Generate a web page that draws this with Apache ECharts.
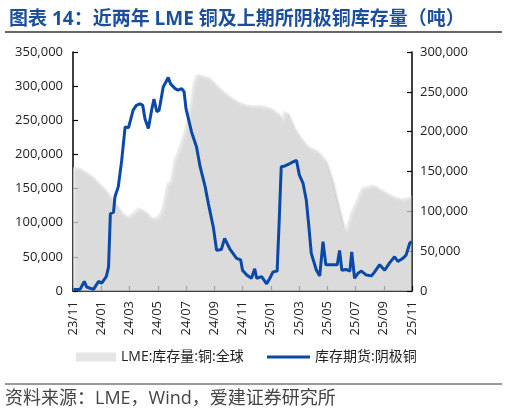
<!DOCTYPE html>
<html>
<head>
<meta charset="utf-8">
<script src="https://cdn.jsdelivr.net/npm/echarts@6/dist/echarts.min.js"></script>
<style>
html,body{margin:0;padding:0;background:#fff;}
#c{width:508px;height:415px;}
</style>
</head>
<body>
<div id="c"></div>
<script>
// ---- data (tonnes) ----
const lmeDates = ['2023-11-01','2023-11-09','2023-12-08','2024-01-06','2024-01-24','2024-02-11','2024-02-25','2024-03-09','2024-03-20','2024-04-04','2024-04-18','2024-05-02','2024-05-10','2024-05-20','2024-05-28','2024-06-04','2024-06-18','2024-06-29','2024-07-10','2024-07-17','2024-07-24','2024-08-04','2024-08-19','2024-09-02','2024-09-16','2024-10-04','2024-10-22','2024-11-04','2024-11-16','2024-12-08','2024-12-29','2025-01-17','2025-01-24','2025-01-28','2025-02-04','2025-02-17','2025-03-02','2025-03-17','2025-04-08','2025-04-26','2025-05-10','2025-05-24','2025-06-04','2025-06-09','2025-06-19','2025-07-03','2025-07-14','2025-08-08','2025-08-27','2025-09-17','2025-10-08','2025-10-23','2025-10-31'];
const lmeValues = [181000,182000,170000,150000,135000,116000,109000,116000,123000,116000,106000,111000,123000,157000,162000,191000,216000,240000,279000,308000,318000,316000,313000,303000,294000,284000,277000,274000,272000,272000,269000,260000,247000,264000,262000,240000,225000,213000,206000,191000,162000,123000,94000,89000,113000,135000,152000,156000,148000,140000,135000,137000,140000];

const shfeDates = ['2023-11-02','2023-11-16','2023-11-25','2023-11-30','2023-12-15','2023-12-26','2024-01-02','2024-01-12','2024-01-17','2024-01-21','2024-01-28','2024-01-31','2024-02-07','2024-02-14','2024-02-21','2024-02-28','2024-03-09','2024-03-16','2024-03-24','2024-03-30','2024-04-04','2024-04-11','2024-04-18','2024-04-23','2024-04-29','2024-05-04','2024-05-13','2024-05-24','2024-05-29','2024-06-08','2024-06-14','2024-06-22','2024-06-27','2024-07-01','2024-07-13','2024-07-24','2024-08-01','2024-08-12','2024-08-19','2024-08-30','2024-09-06','2024-09-16','2024-09-23','2024-10-04','2024-10-19','2024-10-28','2024-11-01','2024-11-10','2024-11-20','2024-11-27','2024-12-01','2024-12-12','2024-12-23','2024-12-30','2025-01-06','2025-01-15','2025-01-19','2025-01-24','2025-02-01','2025-02-11','2025-02-17','2025-02-24','2025-03-02','2025-03-10','2025-03-17','2025-03-22','2025-03-28','2025-04-08','2025-04-15','2025-04-22','2025-04-28','2025-05-01','2025-05-10','2025-05-23','2025-05-28','2025-06-02','2025-06-11','2025-06-19','2025-06-23','2025-06-29','2025-07-06','2025-07-14','2025-07-25','2025-08-05','2025-08-12','2025-08-23','2025-09-03','2025-09-13','2025-09-24','2025-10-01','2025-10-12','2025-10-19','2025-10-27','2025-10-31'];
const shfeValues = [2000,2000,12000,5000,2000,12000,10000,18000,30000,97000,99000,118000,131000,164000,206000,205000,227000,233000,235000,233000,216000,204000,227000,241000,225000,227000,256000,268000,260000,254000,252000,254000,250000,229000,200000,181000,156000,131000,110000,80000,51000,52000,66000,53000,41000,39000,26000,20000,16000,28000,16000,18000,9000,16000,24000,25000,80000,156000,157000,160000,162000,164000,145000,135000,114000,85000,47000,26000,19000,62000,33000,35000,33000,33000,51000,26000,27000,25000,49000,16000,22000,25000,20000,19000,24000,33000,26000,35000,43000,37000,41000,45000,60000,62000];

const seriesNames = ['LME:库存量:铜:全球','库存期货:阴极铜'];
const titleText = '图表 14：近两年 LME 铜及上期所阴极铜库存量（吨）';
const sourceText = '资料来源：LME，Wind，爱建证券研究所';

// month offset from 2023-11-01
function monthIdx(s){
  const [y,m,d] = s.split('-').map(Number);
  const dim = new Date(y, m, 0).getDate();
  return (y-2023)*12 + (m-11) + (d-1)/dim;
}
function fmtMonth(v){
  const t = 2023*12 + 10 + Math.round(v);
  const y = Math.floor(t/12), m = t%12 + 1;
  return String(y%100).padStart(2,'0') + '/' + String(m).padStart(2,'0');
}
const lmeData = lmeDates.map((d,i)=>[monthIdx(d), lmeValues[i]]);
const shfeData = shfeDates.map((d,i)=>[monthIdx(d), shfeValues[i]]);

const FONT = '"Open Sans","Noto Sans CJK SC",sans-serif';
const chart = echarts.init(document.getElementById('c'), null, {renderer:'canvas'});
chart.setOption({
  animation:false,
  backgroundColor:'#fff',
  title:{
    text:titleText, left:4, top:5,
    textStyle:{color:'#1b4f9e', fontSize:19, fontWeight:'bold', fontFamily:FONT}
  },
  graphic:[
    {type:'line', shape:{x1:5,y1:32,x2:502,y2:32}, style:{stroke:'#333', lineWidth:1.5}},
    {type:'line', shape:{x1:5,y1:384,x2:502,y2:384}, style:{stroke:'#333', lineWidth:1}},
    {type:'text', left:5, top:390, style:{text:sourceText, fill:'#444', fontSize:18, fontFamily:FONT}}
  ],
  legend:[
    {data:[seriesNames[0]], left:71, top:345, itemWidth:40, itemHeight:9, icon:'rect',
     textStyle:{color:'#222', fontSize:14, fontFamily:FONT}, itemGap:6},
    {data:[seriesNames[1]], left:262, top:345, itemWidth:43, itemHeight:3, icon:'rect',
     textStyle:{color:'#222', fontSize:14, fontFamily:FONT}}
  ],
  grid:{left:73, right:96, top:52, bottom:124, containLabel:false},
  xAxis:{
    type:'value', min:0, max:24, interval:2,
    axisLine:{lineStyle:{color:'#000', width:1.5}},
    axisTick:{inside:true, length:5, lineStyle:{color:'#000', width:1.2}},
    splitLine:{show:false},
    axisLabel:{rotate:90, margin:10, color:'#222', fontSize:13, fontFamily:FONT, formatter:fmtMonth}
  },
  yAxis:[
    {type:'value', min:0, max:350000, interval:50000, position:'left',
     axisLine:{show:true, lineStyle:{color:'#000', width:1.5}},
     axisTick:{show:true, inside:true, length:5, lineStyle:{color:'#000', width:1.2}},
     splitLine:{show:false},
     axisLabel:{margin:10, color:'#222', fontSize:13, fontFamily:FONT,
       formatter:v=>v.toLocaleString('en-US')}},
    {type:'value', min:0, max:300000, interval:50000, position:'right',
     axisLine:{show:true, lineStyle:{color:'#000', width:1.5}},
     axisTick:{show:true, inside:true, length:5, lineStyle:{color:'#000', width:1.2}},
     splitLine:{show:false},
     axisLabel:{margin:8, color:'#222', fontSize:13, fontFamily:FONT,
       formatter:v=>v.toLocaleString('en-US')}}
  ],
  series:[
    {name:seriesNames[0], type:'line', yAxisIndex:0, data:lmeData, symbol:'none',
     color:'#e6e6e6',
     lineStyle:{width:0},
     areaStyle:{color:'#e6e6e6', shadowColor:'rgba(0,0,0,0.35)', shadowBlur:3, shadowOffsetX:2, shadowOffsetY:2},
     z:1},
    {name:seriesNames[1], type:'line', yAxisIndex:1, data:shfeData, symbol:'none',
     color:'#0b49a8',
     lineStyle:{width:3, color:'#0b49a8'},
     z:3}
  ]
});
</script>
</body>
</html>
